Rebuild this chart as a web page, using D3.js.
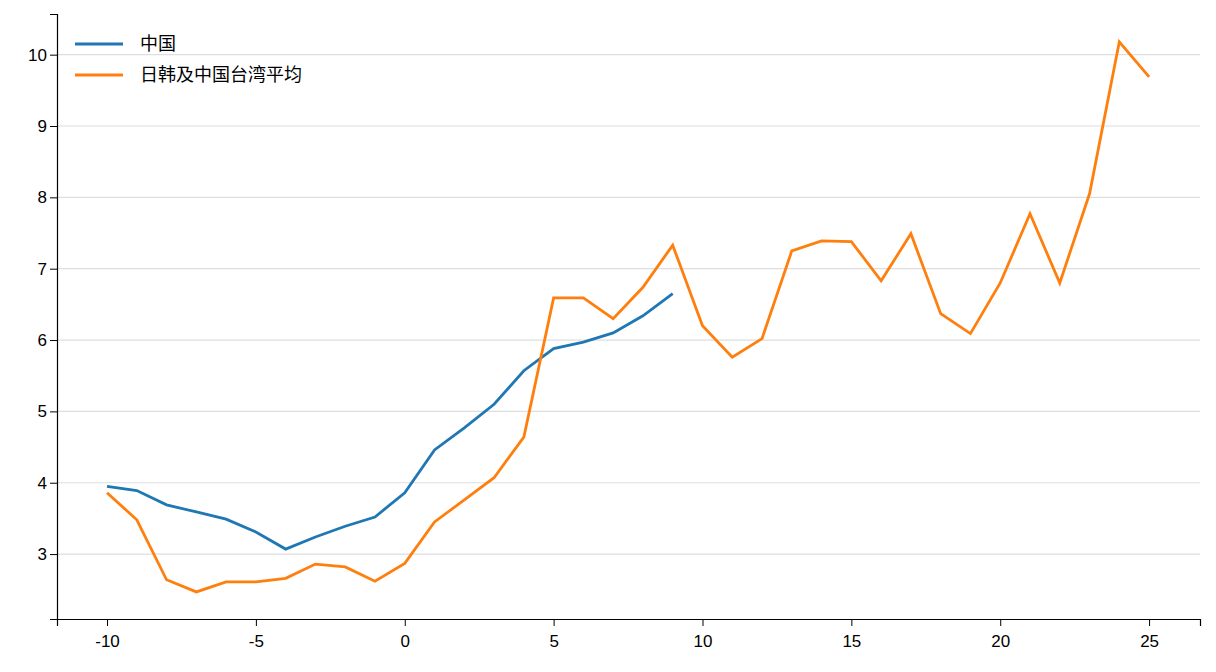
<!DOCTYPE html><html><head><meta charset="utf-8"><script src="https://cdn.jsdelivr.net/npm/d3@7"></script>
<style>body{margin:0;background:#fff}text{font-family:"Liberation Sans","Noto Sans CJK SC",sans-serif}</style></head><body><svg id="c" width="1216" height="672"></svg><script>
const chinaX=d3.range(-10,10);
const china=[3.95,3.89,3.69,3.59,3.49,3.31,3.07,3.24,3.39,3.52,3.86,4.46,4.77,5.10,5.57,5.88,5.97,6.10,6.34,6.65];
const avgX=d3.range(-10,26);
const avg=[3.86,3.48,2.64,2.47,2.61,2.61,2.66,2.86,2.82,2.62,2.87,3.45,3.76,4.07,4.64,6.59,6.59,6.30,6.74,7.33,6.20,5.76,6.02,7.25,7.39,7.38,6.83,7.49,6.37,6.09,6.80,7.77,6.80,8.05,10.18,9.69];
const seriesNames=["中国","日韩及中国台湾平均"];
const xTicks=[-10,-5,0,5,10,15,20,25], yTicks=[3,4,5,6,7,8,9,10];
const svg=d3.select("#c"),L=57,R=1200,T=14,B=619;
const x=d3.scaleLinear().domain([-11.68,26.71]).range([L,R]);
const y=d3.scaleLinear().domain([2.09,10.57]).range([B,T]);
svg.append("g").selectAll("line").data(yTicks).join("line").attr("x1",L).attr("x2",R).attr("y1",d=>y(d)).attr("y2",d=>y(d)).attr("stroke","#dedede").attr("stroke-width",1.2);
const gx=svg.append("g").attr("transform",`translate(0,${B})`).call(d3.axisBottom(x).tickValues(xTicks).tickFormat(d=>String(d)).tickSizeOuter(0).tickSize(7));
const gy=svg.append("g").attr("transform",`translate(${L},0)`).call(d3.axisLeft(y).tickValues(yTicks).tickSizeOuter(0).tickSize(7));
[gx,gy].forEach(g=>{g.selectAll("text").attr("font-size",17).attr("fill","#000");g.select(".domain").attr("stroke","#000").attr("stroke-width",1.2);g.selectAll(".tick line").attr("stroke","#000")});
gx.selectAll("text").attr("dy","1.05em");
const line=d3.line().x(d=>x(d[0])).y(d=>y(d[1]));
const cols=["#1f77b4","#ff7f0e"];
svg.append("path").datum(chinaX.map((v,i)=>[v,china[i]])).attr("d",line).attr("fill","none").attr("stroke",cols[0]).attr("stroke-width",2.8);
svg.append("path").datum(avgX.map((v,i)=>[v,avg[i]])).attr("d",line).attr("fill","none").attr("stroke",cols[1]).attr("stroke-width",2.8);
seriesNames.forEach((n,i)=>{const yy=44+i*31;
svg.append("line").attr("x1",75).attr("x2",123).attr("y1",yy).attr("y2",yy).attr("stroke",cols[i]).attr("stroke-width",2.8);
svg.append("text").attr("x",140).attr("y",yy+6).attr("font-size",18).text(n);});
</script></body></html>
